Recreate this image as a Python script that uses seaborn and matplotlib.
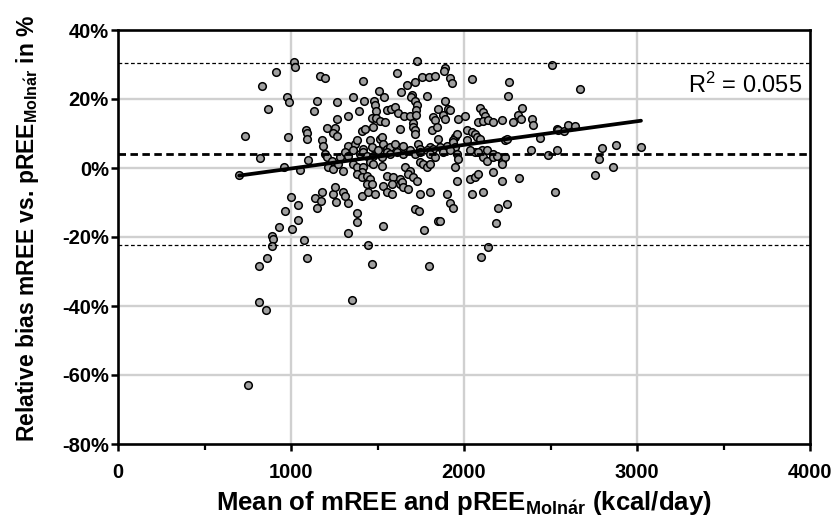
import numpy as np
import pandas as pd
import matplotlib
matplotlib.use("Agg")
import matplotlib.pyplot as plt
from matplotlib.ticker import FixedLocator, FuncFormatter
import seaborn as sns

# Mean of mREE and pREE (kcal/day) and relative bias (%) per subject
mean_kcal = [
    1020, 1024, 915, 834, 1166, 1195, 979, 990, 1152, 865, 1133, 736, 983, 1089, 1091, 1091,
    821, 1098, 960, 1050, 700,
    1002, 1137, 1173, 1039, 1152, 967, 1040, 929, 1008, 888, 896, 888, 1073, 860, 1092, 813,
    815, 857, 753,
    1726, 1611, 1414, 1669, 1717, 1510, 1536, 1634, 1701, 1694, 1266, 1356, 1424, 1482, 1486,
    1491, 1555, 1578, 1603, 1717, 1726, 1720, 1395, 1620, 1653, 1690, 1722, 1328, 1466, 1491,
    1514, 1543, 1264, 1707,
    1890, 1886, 1919, 1929, 1755, 1800, 1832, 2044, 2252, 1784, 1890, 1851, 1909, 1919, 2092,
    2111, 2121, 1823, 1832, 1880, 1890, 1967, 2006, 2083, 2111, 2140, 2169, 2221,
    2507, 2260, 2671, 2334, 2314, 2285, 2329, 2391, 2400, 2536, 2545, 2580, 2603, 2642, 2439,
    2387, 2487, 2539, 2800, 2780, 2757, 2319, 2526,
    2879, 2863, 3023,
    1380, 1380, 1530, 1331, 1443, 1466, 1355, 1331, 1258,
    1919, 1938, 2198, 2246, 1848, 1861, 2185, 1767, 2137, 2098, 1799, 1715, 1738,
    1210, 1255, 1241, 1268, 1409, 1428, 1476, 1630, 1708, 1717, 1717, 1814, 1842, 1852, 1948,
    1958, 1939, 2016, 2045, 2064, 2074, 2093,
    1178, 1187, 1332, 1370, 1380, 1419, 1457, 1467, 1515, 1525, 1534, 1553, 1573, 1602, 1650,
    1736, 1746, 1804, 1823, 1862, 1900, 1939, 1948, 2016, 2064, 2103, 2132, 2170, 2237, 2247,
    1197, 1207, 1235, 1284, 1313, 1332, 1361, 1399, 1419, 1438, 1476, 1505, 1525, 1553, 1573,
    1611, 1650, 1688, 1717, 1746, 1785, 1804, 1833, 1881, 1920, 1958, 1968, 2035, 2083, 2112,
    2132, 2170, 2189, 2218, 2237,
    1216, 1245, 1274, 1303, 1361, 1380, 1419, 1409, 1457, 1476, 1525, 1659, 1688, 1746, 1765,
    1785, 1804, 1948, 2170, 2218,
    1380, 1409, 1438, 1457, 1553, 1592, 1630, 1679, 1708, 1727, 1958, 2035, 2064, 2083, 2218,
    1178, 1245, 1255, 1303, 1313, 1409, 1447, 1438, 1467, 1486, 1534, 1553, 1582, 1582, 1630,
    1640, 1650, 1679, 1746, 1804, 1900, 2045, 2112,
]
rel_bias = [
    30.6, 29.4, 27.8, 23.9, 26.7, 26.1, 20.7, 19.2, 19.5, 17.1, 16.4, 9.3, 9.1, 11.0, 10.1, 8.5,
    2.9, 2.3, 0.2, -0.6, -2.0,
    -8.3, -8.6, -9.7, -10.8, -11.5, -12.5, -15.2, -17.2, -17.8, -19.8, -20.5, -22.5, -21.0,
    -26.1, -26.0, -28.4, -38.8, -41.1, -62.8,
    31.0, 27.4, 25.2, 24.2, 24.9, 22.3, 20.5, 21.9, 21.3, 20.5, 19.0, 20.5, 19.4, 19.4, 18.2,
    16.4, 16.8, 17.2, 17.6, 19.4, 18.4, 16.9, 16.6, 15.8, 15.2, 15.2, 15.5, 15.1, 14.5, 14.5,
    13.6, 13.3, 14.1, 13.1,
    29.1, 28.2, 26.2, 24.5, 26.3, 26.3, 26.6, 25.7, 20.8, 20.8, 19.5, 17.2, 17.0, 16.7, 17.5,
    16.1, 15.1, 14.8, 13.8, 15.5, 14.3, 14.3, 15.1, 13.3, 13.7, 13.8, 13.3, 13.8,
    29.9, 24.8, 22.8, 17.5, 15.3, 13.3, 14.1, 14.3, 12.6, 11.4, 11.0, 10.6, 12.6, 12.1, 8.7,
    5.3, 3.8, 5.1, 5.8, 2.7, -2.0, -2.8, -7.1,
    6.7, 0.2, 6.2,
    -13.1, -15.7, -16.7, -18.9, -22.4, -27.9, -38.4, -10.0, -9.8,
    -10.2, -11.5, -11.7, -10.5, -15.4, -15.4, -15.9, -17.9, -22.8, -25.9, -28.5, -12.0, -12.5,
    11.7, 11.7, 10.1, 9.4, 10.7, 11.4, 11.9, 11.4, 11.9, 10.9, 10.0, 10.9, 11.9, 8.5, 9.0,
    10.0, 8.0, 10.9, 10.4, 10.0, 9.0, 8.5,
    8.0, 6.5, 6.5, 7.0, 8.0, 5.6, 8.0, 6.0, 8.5, 9.0, 7.0, 5.6, 6.0, 7.0, 6.5,
    7.0, 5.6, 6.0, 5.6, 6.0, 6.5, 7.5, 6.0, 8.0, 4.6, 5.3, 5.1, 4.1, 8.0, 8.5,
    4.1, 3.1, 2.1, 3.1, 4.6, 3.6, 5.1, 4.1, 4.6, 3.6, 3.6, 5.1, 3.1, 4.6, 4.1,
    4.6, 4.1, 5.1, 4.1, 4.6, 5.1, 4.1, 3.1, 4.6, 5.1, 4.1, 2.6, 5.1, 4.6, 3.1,
    2.1, 3.1, 3.6, 1.7, 3.1,
    0.2, -0.3, 1.2, -0.8, 1.2, 0.2, 0.2, -1.3, 1.7, 1.2, 0.7, 0.2, -0.8, 1.7, 1.2,
    0.2, 1.2, 0.2, -1.3, 1.2,
    -1.7, -2.7, -2.2, -3.2, -2.2, -2.7, -3.2, -1.7, -2.7, -3.7, -3.7, -3.2, -2.7, -1.7, -3.7,
    -7.1, -7.6, -5.6, -7.1, -8.1, -8.1, -7.1, -4.7, -4.7, -7.6, -5.2, -7.1, -4.7, -7.6, -4.7,
    -4.2, -5.6, -6.1, -7.6, -7.1, -7.6, -7.6, -7.1,
]

# Bland-Altman reference lines (%)
mean_bias = 4.1
upper_loa = 30.5
lower_loa = -22.3

# Linear regression of bias on mean
fit_slope = 0.00685
fit_intercept = -7.0
fit_range = [700, 3023]
r_squared = 0.055

x_ticks = [0, 1000, 2000, 3000, 4000]
x_minor = [500, 1500, 2500, 3500]
y_ticks = [-80, -60, -40, -20, 0, 20, 40]

df = pd.DataFrame({"mean": mean_kcal, "bias": rel_bias})
fit_df = pd.DataFrame({"mean": fit_range})
fit_df["bias"] = fit_intercept + fit_slope * fit_df["mean"]

sns.set_theme(style="white")
plt.rcParams["font.family"] = ["Liberation Sans", "DejaVu Sans"]
plt.rcParams["text.color"] = "black"
plt.rcParams["axes.labelcolor"] = "black"
plt.rcParams["xtick.color"] = "black"
plt.rcParams["ytick.color"] = "black"
plt.rcParams["mathtext.fontset"] = "custom"
plt.rcParams["mathtext.rm"] = "Liberation Sans"
plt.rcParams["mathtext.bf"] = "Liberation Sans:bold"
plt.rcParams["mathtext.it"] = "Liberation Sans:italic"

fig = plt.figure(figsize=(8.38, 5.26), dpi=100)
ax = fig.add_axes([118 / 838, 1 - 444 / 526, (810 - 118) / 838, (444 - 30) / 526])

grid_kw = dict(color="#d0d0d0", lw=1.7, zorder=0)
for gx in [1000, 2000, 3000]:
    ax.axvline(gx, **grid_kw)
for gy in [20, 0, -20, -40, -60]:
    ax.axhline(gy, **grid_kw)

sns.scatterplot(data=df, x="mean", y="bias", ax=ax, s=30, color="#a0a0a0",
                edgecolor="black", linewidth=1.1, zorder=3, legend=False)

ax.axhline(upper_loa, color="black", lw=0.9, ls=(0, (3, 2)), zorder=4)
ax.axhline(lower_loa, color="black", lw=0.9, ls=(0, (3, 2)), zorder=4)
ax.axhline(mean_bias, color="black", lw=2.0, ls=(0, (2.7, 1.6)), zorder=4)
sns.lineplot(data=fit_df, x="mean", y="bias", ax=ax, color="black", lw=2.7,
             zorder=5, legend=False)

ax.text(3955, 21.8, r"R$^{\mathrm{2}}$ = 0.055", ha="right", va="baseline",
        fontsize=17, color="black")

ax.set_xlim(0, 4000)
ax.set_ylim(-80, 40)
ax.xaxis.set_major_locator(FixedLocator(x_ticks))
ax.xaxis.set_minor_locator(FixedLocator(x_minor))
ax.yaxis.set_major_locator(FixedLocator(y_ticks))
ax.yaxis.set_major_formatter(FuncFormatter(lambda v, p: f"{v:.0f}%"))

ax.tick_params(axis="both", which="major", direction="out", length=5, width=1.8,
               color="black", labelcolor="black", labelsize=14.5, bottom=True, left=True)
ax.tick_params(axis="x", which="major", pad=9)
ax.tick_params(axis="y", which="major", pad=1.5)
ax.tick_params(axis="x", which="minor", direction="out", length=4, width=1.6,
               color="black", bottom=True)
for lab in ax.get_xticklabels() + ax.get_yticklabels():
    lab.set_fontweight("bold")

for side in ["left", "bottom", "right", "top"]:
    ax.spines[side].set_visible(True)
    ax.spines[side].set_color("black")
    ax.spines[side].set_linewidth(1.9)

ax.set_xlabel(r"Mean of mREE and pREE$_{\mathbf{Moln\acute{a}r}}$ (kcal/day)",
              fontsize=18.5, fontweight="bold", labelpad=5)
ax.set_ylabel(r"Relative bias mREE vs. pREE$_{\mathbf{Moln\acute{a}r}}$ in %",
              fontsize=16.5, fontweight="bold", labelpad=15)
ax.yaxis.label.set_y(0.52)

fig.savefig("out.png", dpi=100)
